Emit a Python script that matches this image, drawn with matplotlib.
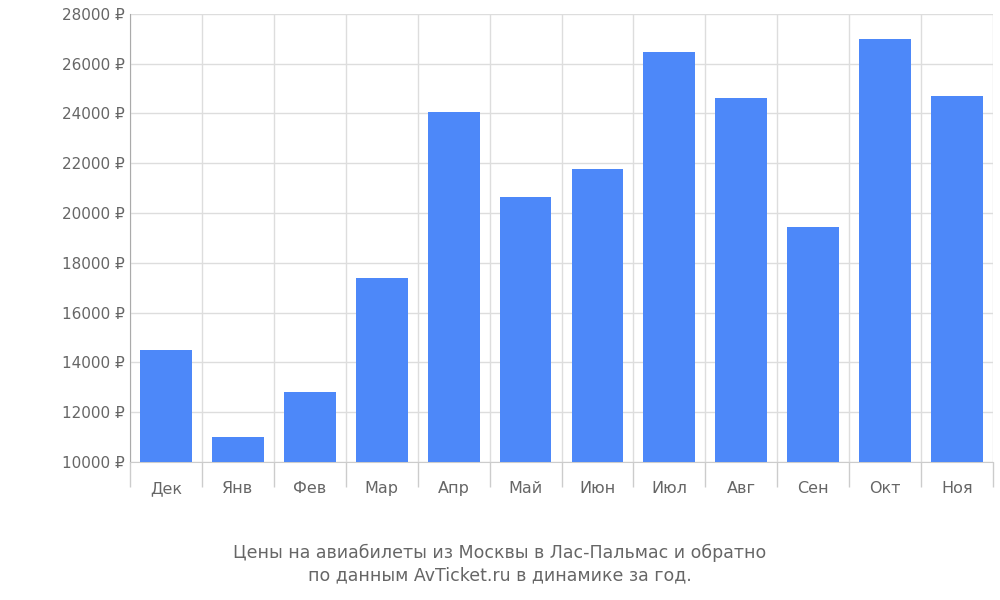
import matplotlib
matplotlib.use("Agg")
import matplotlib.pyplot as plt

months = ["Дек","Янв","Фев","Мар","Апр","Май","Июн","Июл","Авг","Сен","Окт","Ноя"]
prices = [14500,11000,12800,17400,24050,20650,21750,26450,24600,19450,27000,24700]
yticks = list(range(10000, 28001, 2000))
title = "Цены на авиабилеты из Москвы в Лас-Пальмас и обратно\nпо данным AvTicket.ru в динамике за год."

fig = plt.figure(figsize=(10, 6), dpi=100)
ax = fig.add_axes([0.13, 0.23, 0.863, 0.747])
x = list(range(len(months)))
ax.bar(x, prices, width=0.72, color="#4d88f9", zorder=3)
ax.set_xlim(-0.5, len(months) - 0.5)
ax.set_ylim(10000, 28000)
ax.set_yticks(yticks)
ax.set_yticklabels([f"{v} ₽" for v in yticks], fontsize=11, color="#666666")
ax.set_xticks(x)
ax.set_xticklabels(months, fontsize=11.5, color="#666666")
ax.tick_params(axis="x", length=0, pad=14)
ax.tick_params(axis="y", length=0, pad=4)
ax.set_xticks([i - 0.5 for i in range(len(months) + 1)], minor=True)
ax.tick_params(axis="x", which="minor", length=18, color="#cccccc", width=1)
ax.grid(True, which="major", axis="y", color="#dddddd", lw=1, zorder=0)
ax.grid(True, which="minor", axis="x", color="#dddddd", lw=1, zorder=0)
for s in ["top", "right"]:
    ax.spines[s].set_visible(False)
ax.spines["left"].set_color("#aaaaaa")
ax.spines["bottom"].set_color("#cccccc")
fig.text(0.5, 0.06, title, ha="center", va="center", fontsize=12.5, color="#666666", linespacing=1.3)
fig.savefig("out.png")
